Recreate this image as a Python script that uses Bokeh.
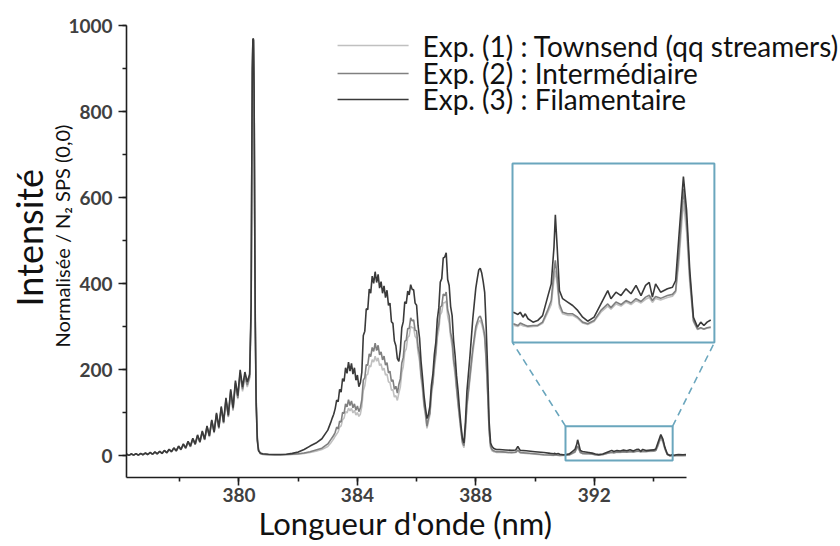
from bokeh.plotting import figure
from bokeh.models import Range1d, SingleIntervalTicker, Label, ColumnDataSource, Title
from bokeh.embed import file_html
from bokeh.resources import INLINE

FONT = "Lato"

# ---------------- data ----------------
# region A : 376.2 - 380.36 nm (rising band wing with rotational ripple)
wl_a = [376.20, 376.28, 376.36, 376.44, 376.52, 376.60, 376.68, 376.76, 376.84, 376.92,
        377.00, 377.08, 377.16, 377.24, 377.32, 377.40, 377.48, 377.56, 377.64, 377.72,
        377.80, 377.88, 377.96, 378.04, 378.12, 378.20, 378.28, 378.36, 378.44, 378.52,
        378.60, 378.68, 378.76, 378.84, 378.92, 379.00, 379.08, 379.16, 379.24, 379.32,
        379.40, 379.48, 379.56, 379.64, 379.72, 379.80, 379.88, 379.96, 380.04, 380.12,
        380.20, 380.28, 380.36]
exp3_a = [4.5, 1.5, 5, 2, 5.5, 2, 6, 3, 7, 3.5,
          8.5, 4, 9.5, 5, 11, 6, 13, 7.5, 15.5, 10,
          19, 12, 23, 15, 28, 19, 34, 23, 41, 28,
          49, 33, 58, 39, 70, 47, 84, 56, 100, 67,
          115, 79, 135, 95, 155, 112, 175, 140, 200, 160,
          195, 172, 190]
exp2_a = [4, 1.5, 4.5, 2, 5, 2, 5.5, 3, 6.5, 3.5,
          8, 4, 9, 5, 10.5, 6, 12.5, 7.5, 15, 10,
          18, 12, 22, 15, 27, 18, 33, 22, 40, 27,
          47, 32, 56, 38, 68, 46, 82, 55, 97, 65,
          112, 77, 131, 92, 150, 108, 170, 135, 193, 155,
          188, 165, 184]
exp1_a = [3.5, 1.5, 4, 2, 4.5, 2, 5, 2.5, 6, 3,
          7.5, 3.5, 8.5, 4.5, 10, 5.5, 12, 7, 14, 9,
          17, 11, 21, 14, 26, 17, 32, 21, 39, 26,
          46, 31, 54, 37, 66, 44, 80, 53, 95, 63,
          109, 75, 128, 90, 146, 105, 166, 132, 188, 150,
          183, 160, 180]

# region P : band head at 380.5 nm
wl_p = [380.41, 380.43, 380.45, 380.47, 380.49, 380.51, 380.53, 380.55, 380.58, 380.62, 380.66, 380.72]
exp3_p = [350, 650, 900, 970, 968, 850, 550, 300, 120, 35, 12, 7]
exp2_p = [330, 630, 890, 968, 966, 860, 570, 320, 130, 40, 14, 6]
exp1_p = [320, 620, 885, 966, 965, 865, 580, 330, 140, 45, 15, 5]

# region B : baseline 380.8 - 383.0 nm
wl_b = [380.8, 381.0, 381.2, 381.4, 381.6, 381.8, 382.0, 382.2, 382.4, 382.6, 382.8, 383.0]
exp3_b = [5, 4, 3.5, 3.5, 4, 6, 9, 15, 23, 30, 40, 60]
exp2_b = [4, 3, 3, 3, 3.5, 4, 5, 7, 10, 14, 18, 28]
exp1_b = [3.5, 3, 2.5, 2.5, 3, 3.5, 4, 6, 8, 11, 15, 22]

# region C : 383.1 - 388.7 nm band structure
wl_c = [383.10, 383.15, 383.20, 383.25, 383.30, 383.35, 383.40, 383.45, 383.50, 383.55,
        383.60, 383.65, 383.70, 383.75, 383.80, 383.85, 383.90, 383.95,
        384.00, 384.05, 384.10, 384.15, 384.20, 384.25, 384.30, 384.35, 384.40, 384.45,
        384.50, 384.55, 384.60, 384.65, 384.70, 384.75, 384.80, 384.85, 384.90, 384.95,
        385.00, 385.05, 385.10, 385.15, 385.20, 385.25, 385.30, 385.35, 385.40, 385.45,
        385.50, 385.55, 385.60, 385.65, 385.70, 385.75, 385.80, 385.85, 385.90, 385.95,
        386.00, 386.05, 386.10, 386.15, 386.20, 386.25, 386.30, 386.35, 386.40, 386.45,
        386.50, 386.55, 386.60, 386.65, 386.70, 386.75, 386.80, 386.85, 386.90, 386.95,
        387.00, 387.05, 387.10, 387.15, 387.20, 387.25, 387.30, 387.35, 387.40, 387.45,
        387.50, 387.55, 387.60, 387.65, 387.70, 387.75, 387.80, 387.85, 387.90, 387.95,
        388.00, 388.05, 388.10, 388.15, 388.20, 388.25, 388.30, 388.35, 388.40, 388.45,
        388.50, 388.55, 388.60, 388.65, 388.70]
exp3_c = [78, 88, 97, 110, 130, 126, 155, 148, 180, 173, 205, 192, 218, 197, 215, 190, 205, 176,
          188, 161, 170, 195, 280, 290, 342, 340, 388, 378, 418, 401, 428, 403, 422, 390, 405, 378, 395, 368,
          385, 350, 355, 312, 308, 267, 256, 226, 220, 246, 298, 312, 358, 354, 383, 374, 398, 387, 386, 355,
          350, 302, 274, 220, 183, 141, 112, 87, 97, 116, 164, 190, 236, 264, 318, 344, 404, 412, 460, 462,
          472, 410, 396, 347, 326, 268, 234, 186, 152, 108, 70, 40, 30, 80, 150, 190, 230, 275, 320, 355,
          390, 412, 432, 436, 425, 405, 380, 300, 200, 80, 30, 22, 18, 16, 15]
exp2_c = [38, 43, 48, 55, 67, 63, 81, 79, 101, 99, 121, 114, 131, 117, 128, 112, 121, 106,
          116, 103, 112, 131, 176, 182, 212, 211, 237, 231, 252, 243, 262, 245, 257, 235, 242, 223, 232, 211,
          217, 193, 197, 173, 177, 155, 162, 146, 166, 179, 216, 229, 266, 269, 296, 296, 321, 314, 316, 292,
          291, 252, 236, 189, 166, 122, 101, 69, 88, 99, 151, 172, 216, 242, 291, 306, 346, 349, 376, 372,
          381, 339, 326, 286, 271, 224, 201, 160, 125, 92, 60, 32, 24, 65, 120, 152, 185, 218, 250, 275,
          300, 312, 322, 325, 315, 300, 280, 225, 150, 60, 22, 15, 12, 11, 10]
exp1_c = [30, 35, 40, 46, 51, 56, 67, 70, 84, 88, 103, 100, 111, 105, 111, 100, 106, 95,
          101, 92, 97, 115, 152, 163, 187, 190, 210, 207, 224, 218, 232, 220, 228, 210, 214, 199, 204, 188,
          190, 172, 171, 153, 154, 137, 140, 129, 146, 160, 194, 208, 242, 249, 275, 279, 301, 298, 298, 278,
          273, 240, 220, 180, 153, 115, 93, 64, 80, 95, 139, 166, 203, 232, 275, 293, 328, 334, 356, 356,
          360, 325, 309, 276, 255, 215, 189, 152, 118, 87, 56, 28, 19, 60, 112, 145, 176, 208, 240, 265,
          290, 303, 312, 315, 306, 292, 272, 218, 145, 57, 19, 12, 10, 9, 8]

# region E : baseline 388.8 - 390.3 nm
wl_e = [388.8, 389.0, 389.2, 389.35, 389.42, 389.5, 389.7, 390.0, 390.3]
exp3_e = [15, 14, 13, 14, 22, 13, 12, 10, 8]
exp2_e = [10, 9, 8, 9, 14, 8, 7, 5, 3]
exp1_e = [9, 8, 7, 8, 12, 7, 6, 4, 2.5]

# region D : 390.5 - 395.1 nm (zoomed in the inset)
wl_d = [390.52, 390.62, 390.67, 390.73, 390.78, 390.84, 390.95, 391.05, 391.16, 391.27,
        391.35, 391.41, 391.44, 391.48, 391.53, 391.6, 391.71, 391.82, 391.93, 392.04,
        392.15, 392.29, 392.44, 392.59, 392.66, 392.77, 392.88, 392.99, 393.1, 393.21,
        393.32, 393.42, 393.5, 393.57, 393.64, 393.75, 393.9, 394.01, 394.08, 394.15,
        394.25, 394.32, 394.39, 394.47, 394.56, 394.63, 394.7, 394.77, 394.85, 395.0,
        395.1]
exp3_d = [6.0, 5.3, 6.0, 4.4, 5.5, 3.9, 2.8, 3.3, 4.9, 10.9,
          15.2, 27.1, 37.6, 27.1, 13.0, 10.4, 9.3, 8.2, 6.6, 4.4,
          3.1, 4.4, 8.7, 13.0, 10.4, 12.5, 11.4, 13.6, 12.0, 14.7,
          11.4, 14.7, 15.7, 10.9, 15.2, 12.5, 13.6, 14.1, 16.3, 30.3,
          50.0, 39.0, 19.5, 4.4, 1.2, 2.8, 1.7, 2.8, 3.5, 3.0,
          3.5]
exp2_d = [2.3, 1.7, 2.5, 2.1, 1.8, 1.5, 1.7, 1.7, 2.8, 6.6,
          9.8, 19.5, 22.8, 17.4, 8.7, 6.0, 5.5, 5.5, 4.4, 2.8,
          2.3, 3.3, 6.6, 8.7, 7.5, 9.3, 8.5, 9.8, 9.0, 10.4,
          9.5, 10.9, 11.5, 9.8, 11.1, 10.5, 11.4, 11.8, 13.0, 24.9,
          46.0, 35.7, 17.4, 3.3, 0.6, 1.0, 0.6, 1.0, 1.2, 1.0,
          1.2]
exp1_d = [1.8, 1.4, 2.0, 1.6, 1.5, 1.2, 1.4, 1.5, 2.4, 5.8,
          8.5, 16.5, 19.5, 15.0, 7.5, 5.5, 5.0, 5.0, 4.0, 2.5,
          2.0, 3.0, 6.0, 8.0, 7.0, 8.7, 8.0, 9.3, 8.5, 9.8,
          9.0, 10.2, 10.8, 9.2, 10.5, 10.0, 10.8, 11.2, 12.5, 22.0,
          42.0, 32.0, 15.5, 3.0, 0.4, 0.8, 0.5, 0.8, 1.0, 0.8,
          1.0]

series_names = ["Exp. (1) : Townsend (qq streamers)",
                "Exp. (2) : Intermédiaire",
                "Exp. (3) : Filamentaire"]
series_colors = ["#c0c0c0", "#808080", "#3a3a3a"]

# zoom window (source) and where the inset is drawn (target), in data units
zoom_x = (391.03, 394.65)
zoom_y = (-10.5, 69.2)
inset_src_x = (390.5, 394.93)
inset_src_y = (-3.8, 54.2)
inset_tgt_x = (389.24, 396.06)
inset_tgt_y = (263.6, 679.4)

# ---------------- assemble ----------------
wavelength = wl_a + wl_p + wl_b + wl_c + wl_e + wl_d
exp1 = exp1_a + exp1_p + exp1_b + exp1_c + exp1_e + exp1_d
exp2 = exp2_a + exp2_p + exp2_b + exp2_c + exp2_e + exp2_d
exp3 = exp3_a + exp3_p + exp3_b + exp3_c + exp3_e + exp3_d
src = ColumnDataSource(dict(wl=wavelength, e1=exp1, e2=exp2, e3=exp3))

n_in = sum(1 for w in wl_d if w <= inset_src_x[1])
src_in = ColumnDataSource(dict(wl=wl_d[:n_in], e1=exp1_d[:n_in], e2=exp2_d[:n_in], e3=exp3_d[:n_in]))

# frame spans to the right edge so the legend text is not clipped;
# the axis line itself is limited with bounds
p = figure(width=840, height=546, x_range=Range1d(376.2, 400.32), y_range=Range1d(-50, 1000),
           output_backend="svg", toolbar_location=None, title=None,
           min_border_left=126, min_border_right=0, min_border_top=25, min_border_bottom=69)
p.grid.visible = False
p.outline_line_color = None
p.background_fill_color = "white"
p.border_fill_color = "white"

p.xaxis.ticker = SingleIntervalTicker(interval=4, num_minor_ticks=2)
p.yaxis.ticker = SingleIntervalTicker(interval=200, num_minor_ticks=2)
p.xaxis.bounds = (376.2, 395.13)
p.yaxis.bounds = (-50, 1000)
for ax in (p.xaxis[0], p.yaxis[0]):
    ax.axis_line_color = "#1e1e1e"
    ax.axis_line_width = 1.6
    ax.major_tick_line_color = "#1e1e1e"
    ax.minor_tick_line_color = "#1e1e1e"
    ax.major_tick_line_width = 1.6
    ax.minor_tick_line_width = 1.6
    ax.major_tick_in = 0
    ax.major_tick_out = 8
    ax.minor_tick_in = 0
    ax.minor_tick_out = 4
    ax.major_label_text_font = FONT
    ax.major_label_text_font_style = "bold"
    ax.major_label_text_font_size = "19px"
    ax.major_label_text_color = "#404040"
p.xaxis.major_label_standoff = 2
p.yaxis.major_label_standoff = 6

# x title (placed under the axis, centred on the drawn axis line)
p.add_layout(Title(text="Longueur d'onde (nm)", text_font=FONT, text_font_size="31px",
                   text_font_style="normal", text_color="#111111", align="left", offset=132,
                   vertical_align="middle", standoff=-3), "below")

# y titles: two stacked titles in the left panel
p.add_layout(Title(text="Normalisée / N₂ SPS (0,0)", text_font=FONT, text_font_size="20px",
                   text_font_style="normal", text_color="#111111", align="left", offset=130,
                   vertical_align="middle", standoff=-18), "left")
p.add_layout(Title(text="Intensité", text_font=FONT, text_font_size="36px",
                   text_font_style="normal", text_color="#111111", align="left", offset=171,
                   vertical_align="middle", standoff=11), "left")

# main spectra
for col, c in zip(["e1", "e2", "e3"], series_colors):
    p.line("wl", col, source=src, line_color=c, line_width=1.6)

# zoom box, inset frame and connectors
BOX = "#6aa6bd"
p.quad(left=[zoom_x[0], inset_tgt_x[0]], right=[zoom_x[1], inset_tgt_x[1]],
       bottom=[zoom_y[0], inset_tgt_y[0]], top=[zoom_y[1], inset_tgt_y[1]],
       fill_color=None, line_color=BOX, line_width=2)
p.segment(x0=[zoom_x[0], zoom_x[1]], y0=[zoom_y[1], zoom_y[1]],
          x1=[inset_tgt_x[0], inset_tgt_x[1]], y1=[inset_tgt_y[0], inset_tgt_y[0]],
          line_color=BOX, line_width=1.6, line_dash="7 5")

sub = p.subplot(x_source=Range1d(*inset_src_x), y_source=Range1d(*inset_src_y),
                x_target=Range1d(*inset_tgt_x), y_target=Range1d(*inset_tgt_y))
for col, c in zip(["e1", "e2", "e3"], series_colors):
    sub.line("wl", col, source=src_in, line_color=c, line_width=1.6)

# legend (manual, to match the reference layout)
leg_y = [953.5, 888.5, 828.1]
p.segment(x0=[383.33] * 3, x1=[385.73] * 3, y0=leg_y, y1=leg_y, line_color=series_colors, line_width=1.6)
for name, yy in zip(series_names, leg_y):
    p.add_layout(Label(x=386.2, y=yy, text=name, text_font=FONT, text_font_size="28px",
                       text_color="#111111", text_baseline="middle", text_align="left"))

open("out.html", "w").write(file_html(p, INLINE))
